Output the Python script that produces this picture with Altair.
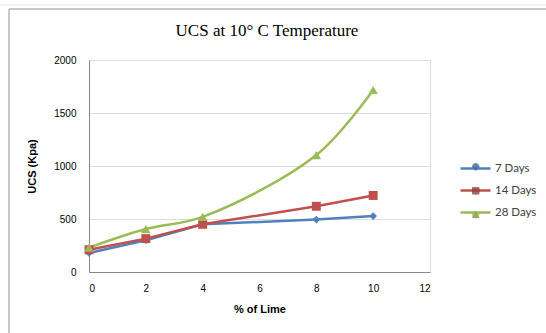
import altair as alt
import pandas as pd

# ---- data ----
lime_pct = [0, 2, 4, 8, 10]
days_7 = [180, 300, 450, 495, 528]
days_14 = [210, 315, 450, 620, 722]
days_28 = [230, 405, 520, 1103, 1717]
series_names = ["7 Days", "14 Days", "28 Days"]
series_colors = ["#4F81BD", "#C0504D", "#9BBB59"]
marker_shapes = ["diamond", "square", "triangle-up"]
x_ticks = [0, 2, 4, 6, 8, 10, 12]
y_ticks = [0, 500, 1000, 1500, 2000]
chart_title = "UCS at 10° C Temperature"

rows = []
for name, vals in zip(series_names, [days_7, days_14, days_28]):
    for x, v in zip(lime_pct, vals):
        rows.append({"Lime": x, "UCS": v, "Series": name})
df = pd.DataFrame(rows)
one_row = pd.DataFrame({"title": [chart_title]})

W, H = 341, 212
PAD_L, PAD_T = 89, 60

label_font = "Lato"
x_enc = alt.X("Lime:Q", scale=alt.Scale(domain=[0, 12], nice=False),
              axis=alt.Axis(values=x_ticks, title="% of Lime", grid=False, ticks=False,
                            labelPadding=11, titlePadding=10, format="d"))
y_enc = alt.Y("UCS:Q", scale=alt.Scale(domain=[0, 2000], nice=False),
              axis=alt.Axis(values=y_ticks, title="UCS (Kpa)", grid=True, ticks=False,
                            labelPadding=13, titlePadding=16, format="d"))
color_scale = alt.Scale(domain=series_names, range=series_colors)

# legend 1: line stubs with the labels
line_legend = alt.Legend(
    title=None, orient="none", legendX=370, legendY=92, symbolType="stroke",
    symbolSize=900, symbolStrokeWidth=2.5,
    labelFont=label_font, labelFontSize=11.5, labelColor="#404040",
    labelOffset=3, rowPadding=-9.5, padding=0,
)
color_legend = alt.Color("Series:N", scale=color_scale, legend=line_legend)
color_plain = alt.Color("Series:N", scale=color_scale, legend=None)

base = alt.Chart(df)

lines_straight = base.transform_filter(
    alt.FieldOneOfPredicate(field="Series", oneOf=series_names[:2])
).mark_line(strokeWidth=2.5).encode(x=x_enc, y=y_enc, color=color_legend)

line_smooth = base.transform_filter(
    alt.FieldEqualPredicate(field="Series", equal=series_names[2])
).mark_line(strokeWidth=2.5, interpolate="catmull-rom").encode(x=x_enc, y=y_enc, color=color_legend)

marker_sizes = [60, 80, 90]
point_layers = []
for name, shp, sz in zip(series_names, marker_shapes, marker_sizes):
    point_layers.append(
        base.transform_filter(alt.FieldEqualPredicate(field="Series", equal=name))
        .mark_point(filled=True, opacity=1, size=sz, shape=shp)
        .encode(x=x_enc, y=y_enc, color=color_plain)
    )

# legend 2: the markers, laid over the middle of the line stubs (no labels of its own)
marker_legend = alt.Legend(
    title=None, orient="none", legendX=381, legendY=101, symbolSize=55,
    symbolStrokeWidth=0, labelExpr="''", labelFontSize=11.5,
    rowPadding=11, padding=0,
)
legend_marks = base.mark_point(filled=True, size=55).encode(
    x=alt.value(-2000), y=alt.value(-2000),
    fill=alt.Fill("Series:N", sort=series_names, scale=alt.Scale(range=series_colors),
                  legend=marker_legend),
    shape=alt.Shape("Series:N", sort=series_names, scale=alt.Scale(range=marker_shapes),
                    legend=marker_legend),
)

title_text = alt.Chart(one_row).mark_text(
    font="Liberation Serif", fontSize=17, color="#000000", align="center", baseline="alphabetic"
).encode(x=alt.value(267 - PAD_L), y=alt.value(36 - PAD_T), text="title:N")

deco = alt.Chart(one_row)
frame_left = deco.mark_rule(color="#C8C8C8", strokeWidth=2).encode(
    x=alt.value(-80), y=alt.value(-51), y2=alt.value(333 - PAD_T)
)
frame_top = deco.mark_rule(color="#C8C8C8", strokeWidth=2).encode(
    x=alt.value(-80), x2=alt.value(546 - PAD_L), y=alt.value(-51)
)
sheet_top = deco.mark_rule(color="#DCE6F2", strokeWidth=1).encode(
    x=alt.value(-PAD_L), x2=alt.value(546 - PAD_L), y=alt.value(-55)
)

chart = alt.layer(
    sheet_top, frame_left, frame_top, title_text, lines_straight, line_smooth,
    *point_layers, legend_marks
).properties(
    width=W, height=H,
    padding={"left": PAD_L, "top": PAD_T, "right": 546 - PAD_L - W, "bottom": 333 - PAD_T - H},
    autosize=alt.AutoSizeParams(type="none"),
).configure_view(stroke=None).configure_axis(
    domainColor="#868686", domainWidth=1, gridColor="#BFBFBF", gridWidth=1,
    labelFont=label_font, labelFontSize=12.5, labelFontWeight="bold", labelColor="#404040",
    titleFont=label_font, titleFontSize=12.5, titleFontWeight="bold", titleColor="#262626",
).configure(background="white")

chart.save("out.html", embed_options={"renderer": "svg", "actions": False})
